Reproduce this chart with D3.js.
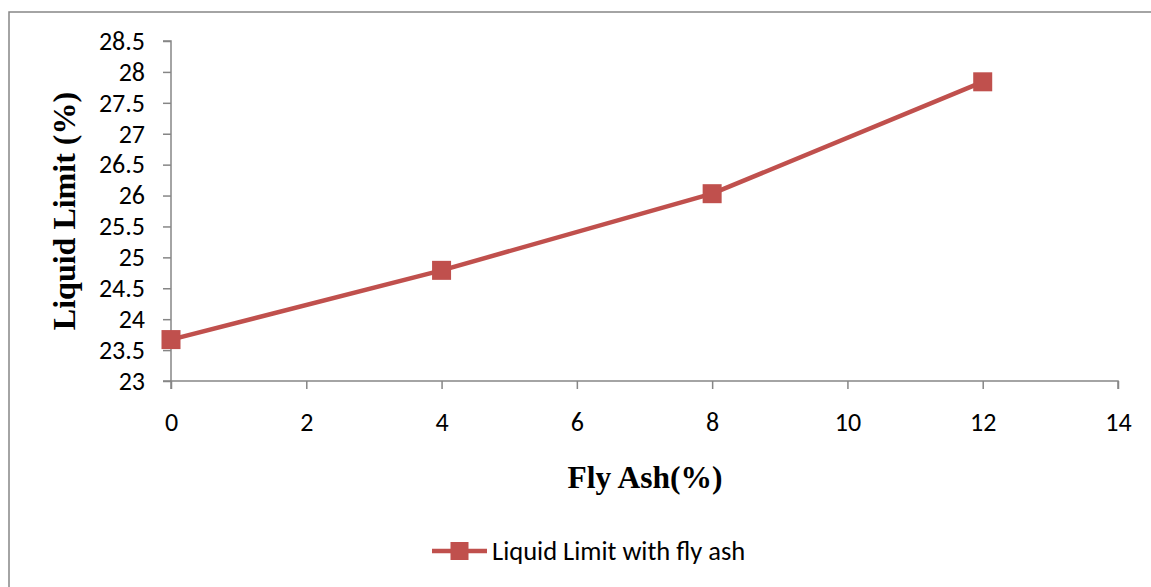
<!DOCTYPE html>
<html>
<head>
<meta charset="utf-8">
<script src="https://cdn.jsdelivr.net/npm/d3@7"></script>
<style>
  html, body { margin: 0; padding: 0; background: #fff; }
  svg { display: block; }
</style>
</head>
<body>
<svg id="chart" width="1151" height="587"></svg>
<script>
// Liquid limit of soil vs. fly ash content
const flyAsh = [0, 4, 8, 12];
const liquidLimit = [23.67, 24.79, 26.03, 27.84];
const xTicks = [0, 2, 4, 6, 8, 10, 12, 14];
const yTicks = [23, 23.5, 24, 24.5, 25, 25.5, 26, 26.5, 27, 27.5, 28, 28.5];
const seriesName = "Liquid Limit with fly ash";
const xTitle = "Fly Ash(%)";
const yTitle = "Liquid Limit (%)";

const svg = d3.select("#chart");
const color = "#C0504D";
const axisColor = "#868686";
const tickFont = "Carlito, 'Open Sans', 'Liberation Sans', sans-serif";
const titleFont = "'Liberation Serif', 'DejaVu Serif', serif";

// chart area frame
svg.append("rect")
  .attr("x", 9).attr("y", 12)
  .attr("width", 1160).attr("height", 600)
  .attr("fill", "none")
  .attr("stroke", axisColor)
  .attr("stroke-width", 1.5);

const x = d3.scaleLinear().domain([0, 14]).range([171, 1118]);
const y = d3.scaleLinear().domain([23, 28.5]).range([381, 41]);

// y axis
const yAxis = svg.append("g")
  .attr("transform", `translate(${x(0)},0)`)
  .call(d3.axisLeft(y).tickValues(yTicks).tickSize(8).tickPadding(18)
    .tickFormat(d => String(d)));
// x axis
const xAxis = svg.append("g")
  .attr("transform", `translate(0,${y(23)})`)
  .call(d3.axisBottom(x).tickValues(xTicks).tickSize(8).tickPadding(24)
    .tickFormat(d => String(d)));

[yAxis, xAxis].forEach(g => {
  g.attr("font-size", null).attr("font-family", null);
  g.select(".domain").attr("stroke", axisColor).attr("stroke-width", 1.5);
  g.selectAll(".tick line").attr("stroke", axisColor).attr("stroke-width", 1.5);
  g.selectAll(".tick text")
    .attr("fill", "#000")
    .style("font-family", tickFont)
    .style("font-size", "26px");
});
xAxis.select(".domain").attr("d", `M${x(0)},8V0H${x(14)}V8`);
yAxis.select(".domain").attr("d", `M-8,${y(28.5)}H0V${y(23)}H-8`);

// line
const line = d3.line().x((d, i) => x(flyAsh[i])).y(d => y(d));
svg.append("path")
  .datum(liquidLimit)
  .attr("d", line)
  .attr("fill", "none")
  .attr("stroke", color)
  .attr("stroke-width", 4.5)
  .attr("stroke-linejoin", "round");

// markers
const ms = 19;
svg.append("g").selectAll("rect")
  .data(liquidLimit)
  .join("rect")
  .attr("x", (d, i) => x(flyAsh[i]) - ms / 2)
  .attr("y", d => y(d) - ms / 2)
  .attr("width", ms).attr("height", ms)
  .attr("fill", color);

// axis titles
svg.append("text")
  .attr("x", 645).attr("y", 488)
  .attr("text-anchor", "middle")
  .style("font-family", titleFont)
  .style("font-weight", "bold")
  .style("font-size", "31.5px")
  .text(xTitle);

svg.append("text")
  .attr("transform", "translate(75,211) rotate(-90)")
  .attr("text-anchor", "middle")
  .style("font-family", titleFont)
  .style("font-weight", "bold")
  .style("font-size", "32px")
  .text(yTitle);

// legend
const lg = svg.append("g").attr("transform", "translate(432,551)");
lg.append("line")
  .attr("x1", 0).attr("x2", 55).attr("y1", 0).attr("y2", 0)
  .attr("stroke", color).attr("stroke-width", 4.5);
lg.append("rect")
  .attr("x", 27.5 - 9).attr("y", -9).attr("width", 18).attr("height", 18)
  .attr("fill", color);
lg.append("text")
  .attr("x", 60).attr("y", 9)
  .style("font-family", tickFont)
  .style("font-size", "26.5px")
  .attr("fill", "#000")
  .text(seriesName);
</script>
</body>
</html>
